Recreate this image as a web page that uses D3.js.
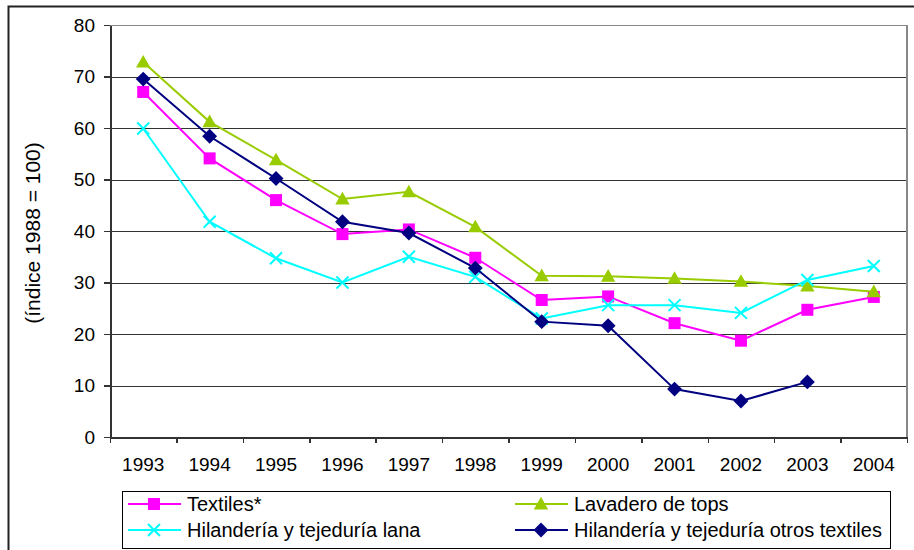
<!DOCTYPE html>
<html>
<head>
<meta charset="utf-8">
<script src="https://cdn.jsdelivr.net/npm/d3@7"></script>
<style>
  body { margin: 0; background: #fff; }
  svg { display: block; font-family: Arial, "Liberation Sans", sans-serif; }
  .axis path, .axis line { shape-rendering: crispEdges; }
</style>
</head>
<body>
<div id="chart"></div>
<script>
var years = ["1993", "1994", "1995", "1996", "1997", "1998", "1999", "2000", "2001", "2002", "2003", "2004"];
var yTicks = [0, 10, 20, 30, 40, 50, 60, 70, 80];

var textiles = [67.0, 54.1, 46.0, 39.4, 40.3, 34.8, 26.6, 27.3, 22.1, 18.7, 24.7, 27.2];
var lavadero = [72.8, 61.2, 53.8, 46.2, 47.6, 40.8, 31.3, 31.2, 30.8, 30.2, 29.3, 28.2];
var lana = [59.9, 41.8, 34.7, 30.0, 35.0, 31.1, 23.0, 25.6, 25.6, 24.1, 30.5, 33.2];
var otros = [69.5, 58.4, 50.2, 41.8, 39.6, 32.8, 22.4, 21.6, 9.3, 7.0, 10.7, null];

var series = [
    { name: "Textiles*", values: textiles, color: "#ff00ff", marker: "square" },
    { name: "Lavadero de tops", values: lavadero, color: "#99cc00", marker: "triangle" },
    { name: "Hilandería y tejeduría lana", values: lana, color: "#00ffff", marker: "cross" },
    { name: "Hilandería y tejeduría otros textiles", values: otros, color: "#000080", marker: "diamond" }
];

var width = 914, height = 550;
var margin = { top: 25, left: 110, right: 7, bottom: 113 };

var svg = d3.select("#chart")
    .append("svg")
    .attr("width", width)
    .attr("height", height);

// chart border
svg.append("rect")
    .attr("x", 8.5)
    .attr("y", 6.5)
    .attr("width", width + 10)
    .attr("height", height + 10)
    .attr("fill", "none")
    .attr("stroke", "#222")
    .attr("stroke-width", 2);

var xScale = d3.scaleBand()
    .domain(years)
    .range([margin.left, width - margin.right]);

var xEdge = d3.scaleLinear()
    .domain([0, years.length])
    .range([margin.left, width - margin.right]);

var yScale = d3.scaleLinear()
    .domain([0, 80])
    .range([height - margin.bottom, margin.top]);

/*
GRIDLINES
*/
svg.append("g")
    .selectAll("line")
    .data(yTicks)
    .enter()
    .append("line")
    .attr("x1", margin.left)
    .attr("x2", width - margin.right)
    .attr("y1", function(d) { return Math.round(yScale(d)) + 0.5; })
    .attr("y2", function(d) { return Math.round(yScale(d)) + 0.5; })
    .attr("stroke", function(d) { return d == 80 ? "#888" : "#333"; })
    .attr("stroke-width", 1);

// right edge of plot area
svg.append("line")
    .attr("x1", width - margin.right)
    .attr("x2", width - margin.right)
    .attr("y1", margin.top)
    .attr("y2", height - margin.bottom)
    .attr("stroke", "#888")
    .attr("stroke-width", 2);

/*
AXES
*/
var yAxis = svg.append("g")
    .attr("class", "axis")
    .attr("transform", "translate(" + margin.left + ",0)")
    .call(d3.axisLeft(yScale).tickValues(yTicks).tickSize(6).tickPadding(9).tickSizeOuter(0));

yAxis.select(".domain").attr("stroke", "#333").attr("stroke-width", 2);
yAxis.selectAll(".tick line").attr("stroke", "#333").attr("stroke-width", 1.5);
yAxis.selectAll("text")
    .attr("font-size", "19px")
    .attr("font-family", "Arial, 'Liberation Sans', sans-serif")
    .attr("fill", "#000");

var xTicksG = svg.append("g")
    .attr("class", "axis")
    .attr("transform", "translate(0," + (height - margin.bottom) + ")")
    .call(d3.axisBottom(xEdge).tickValues(d3.range(0, years.length + 1)).tickSize(6).tickFormat("").tickSizeOuter(0));

xTicksG.select(".domain").attr("stroke", "#333").attr("stroke-width", 2);
xTicksG.selectAll(".tick line").attr("stroke", "#333").attr("stroke-width", 1.5);

var xAxis = svg.append("g")
    .attr("transform", "translate(0," + (height - margin.bottom) + ")")
    .call(d3.axisBottom(xScale).tickSize(0).tickPadding(21));

xAxis.select(".domain").remove();
xAxis.selectAll("text")
    .attr("font-size", "19px")
    .attr("font-family", "Arial, 'Liberation Sans', sans-serif")
    .attr("fill", "#000");

// y axis title
svg.append("text")
    .attr("transform", "rotate(-90)")
    .attr("x", -233)
    .attr("y", 40)
    .attr("text-anchor", "middle")
    .attr("font-size", "21px")
    .text("(índice 1988 = 100)");

/*
MARKERS
*/
function drawMarker(g, type, color, cx, cy, s) {
    if (type == "square") {
        g.append("rect")
            .attr("x", cx - s / 2)
            .attr("y", cy - s / 2)
            .attr("width", s)
            .attr("height", s)
            .attr("fill", color);
    } else if (type == "triangle") {
        g.append("path")
            .attr("d", "M" + cx + "," + (cy - s * 0.6) + "L" + (cx + s * 0.6) + "," + (cy + s * 0.45) + "L" + (cx - s * 0.6) + "," + (cy + s * 0.45) + "Z")
            .attr("fill", color);
    } else if (type == "diamond") {
        g.append("path")
            .attr("d", "M" + cx + "," + (cy - s * 0.62) + "L" + (cx + s * 0.62) + "," + cy + "L" + cx + "," + (cy + s * 0.62) + "L" + (cx - s * 0.62) + "," + cy + "Z")
            .attr("fill", color);
    } else if (type == "cross") {
        var r = s * 0.5;
        g.append("path")
            .attr("d", "M" + (cx - r) + "," + (cy - r) + "L" + (cx + r) + "," + (cy + r) + "M" + (cx - r) + "," + (cy + r) + "L" + (cx + r) + "," + (cy - r))
            .attr("stroke", color)
            .attr("stroke-width", 2)
            .attr("fill", "none");
    }
}

/*
LINES
*/
var line = d3.line()
    .defined(function(d) { return d.v != null; })
    .x(function(d) { return xScale(d.year) + xScale.bandwidth() / 2; })
    .y(function(d) { return yScale(d.v); });

series.forEach(function(s) {
    var pts = years.map(function(y, i) { return { year: y, v: s.values[i] }; });
    var g = svg.append("g");
    g.append("path")
        .datum(pts)
        .attr("d", line)
        .attr("fill", "none")
        .attr("stroke", s.color)
        .attr("stroke-width", 2);
    pts.forEach(function(p) {
        if (p.v == null) return;
        drawMarker(g, s.marker, s.color, xScale(p.year) + xScale.bandwidth() / 2, yScale(p.v), 12);
    });
});

/*
LEGEND
*/
var legend = svg.append("g");
legend.append("rect")
    .attr("x", 122.5)
    .attr("y", 491.5)
    .attr("width", 768)
    .attr("height", 57)
    .attr("fill", "#fff")
    .attr("stroke", "#000")
    .attr("stroke-width", 1);

var colX = [128, 515];
var rowY = [504, 530];

series.forEach(function(s, k) {
    var x0 = colX[k % 2];
    var y0 = rowY[Math.floor(k / 2)];
    var item = legend.append("g");
    item.append("line")
        .attr("x1", x0)
        .attr("x2", x0 + 53)
        .attr("y1", y0)
        .attr("y2", y0)
        .attr("stroke", s.color)
        .attr("stroke-width", 2);
    drawMarker(item, s.marker, s.color, x0 + 26, y0, 12);
    item.append("text")
        .attr("x", x0 + 59)
        .attr("y", y0)
        .attr("dy", "0.36em")
        .attr("font-size", "20px")
        .text(s.name);
});
</script>
</body>
</html>
